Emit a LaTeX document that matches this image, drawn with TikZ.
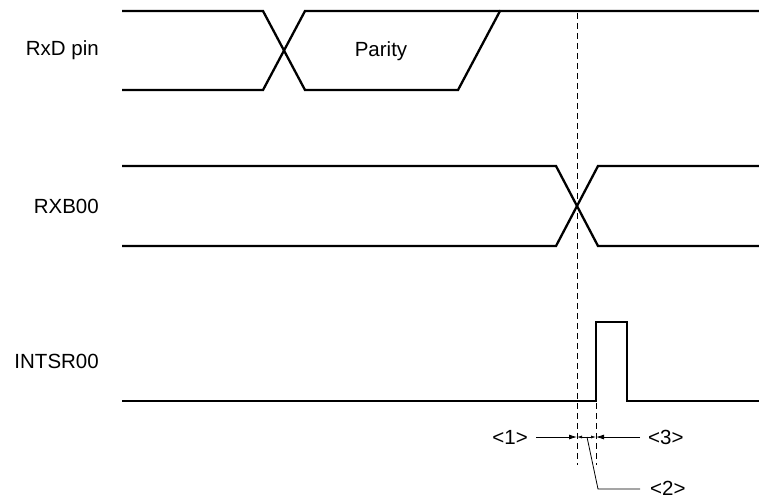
\documentclass[tikz,border=0pt]{standalone}
\usepackage{fontspec}
\setmainfont{Liberation Sans}
\usetikzlibrary{arrows.meta}
\begin{document}
\begin{tikzpicture}[x=1pt,y=-1pt,
  wave/.style={line width=2.3pt,line join=miter},
  guide/.style={line width=0.8pt,dash pattern=on 6pt off 4pt},
  meas/.style={line width=0.8pt,-{Latex[length=8pt,width=5pt]}},
  tiny/.style={line width=0.6pt,{Latex[length=5pt,width=3pt]}-{Latex[length=5pt,width=3pt]}},
  lbl/.style={font=\fontsize{20.5}{23}\selectfont,inner sep=0pt},
  sig/.style={lbl,anchor=east}]
\useasboundingbox (0,0) rectangle (759,498);
% labels
\node[sig] (lrxd) at (99,50) {RxD pin};
\node[sig] (lrxb) at (99,206) {RXB00};
\node[sig] (lint) at (99,361) {INTSR00};
% RxD pin
\draw[wave] (122,11) -- (263,11) -- (305,90) -- (458,90) -- (500,11) -- (759,11);
\draw[wave] (122,90) -- (263,90) -- (305,11) -- (500,11);
\node[lbl] (par) at (381,51) {Parity};
% RXB00
\draw[wave] (122,166) -- (556,166) -- (598,246) -- (759,246);
\draw[wave] (122,246) -- (556,246) -- (598,166) -- (759,166);
% INTSR00
\draw[wave] (122,401) -- (596,401) -- (596,322) -- (627,322) -- (627,401) -- (759,401);
% guides
\coordinate (g1t) at (577,13);
\coordinate (g1b) at (577,465);
\coordinate (g2t) at (596,403);
\coordinate (g2b) at (596,465);
\draw[guide] (g1t) -- (g1b);
\draw[guide] (g2t) -- (g2b);
% measurement
\coordinate (m1) at (577,437);
\coordinate (m2) at (596,437);
\node[lbl,anchor=east] (t1) at (528,437) {<1>};
\node[lbl,anchor=west] (t3) at (648,437) {<3>};
\draw[meas] (t1.east) ++(8,0) -- (m1);
\draw[meas] (t3.west) ++(-8,0) -- (m2);
\draw[tiny] (m1) -- (m2);
\coordinate (lead0) at (587,437);
\coordinate (lead1) at (598,489);
\node[lbl,anchor=west] (t2) at (650,488) {<2>};
\draw[line width=0.8pt] (lead0) -- (lead1) -- ([xshift=-10pt]t2.west |- lead1);
\end{tikzpicture}
\end{document}
